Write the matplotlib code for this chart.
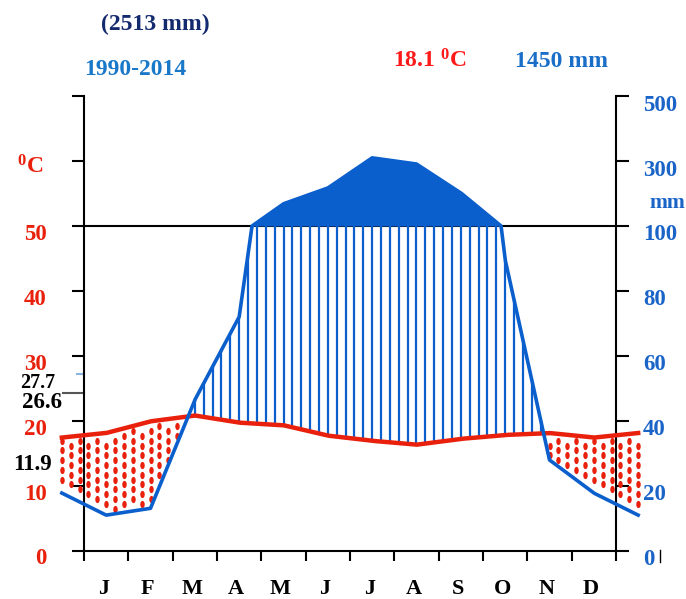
import matplotlib
matplotlib.use("Agg")
import matplotlib.pyplot as plt
import numpy as np
from matplotlib.lines import Line2D

# monthly means
months = ["J", "F", "M", "A", "M", "J", "J", "A", "S", "O", "N", "D"]
temp = [18.1, 19.9, 20.8, 19.7, 19.3, 17.7, 16.9, 16.3, 17.2, 17.8, 18.1, 17.4]
prec = [10.9, 13.0, 46.4, 72.0, 168.5, 217.0, 310.0, 291.0, 202.0, 89.6, 27.9, 17.7]
temp_ticks = [0, 10, 20, 30, 40, 50]
prec_ticks = [0, 20, 40, 60, 80, 100, 300, 500]
extra_labels = ["27.7", "26.6", "11.9"]

RED = "#e8200c"
BLUE = "#0a5fcc"

plt.rcParams["mathtext.fontset"] = "custom"
plt.rcParams["mathtext.rm"] = "Liberation Serif:bold"
plt.rcParams["mathtext.it"] = "Liberation Serif:bold"
plt.rcParams["mathtext.bf"] = "Liberation Serif:bold"
plt.rcParams["mathtext.default"] = "rm"
FONT = dict(family="Liberation Serif", weight="bold")


def scale_p(p):
    # Walter-Lieth: 20 mm = 10 degC below 100 mm, 200 mm = 10 degC above
    p = np.asarray(p, dtype=float)
    return np.where(p <= 100, p / 2.0, 50 + (p - 100) / 20.0)


# wrap december before january and january after december
xm = np.arange(-1, 13) + 0.5
t_ext = [temp[-1]] + temp + [temp[0]]
p_ext = [prec[-1]] + prec + [prec[0]]

xd = np.linspace(-0.5, 12.5, 2601)
td = np.interp(xd, xm, t_ext)
sd = scale_p(np.interp(xd, xm, p_ext))

fig = plt.figure(figsize=(6.86, 5.99), dpi=100)
ax = fig.add_axes([84 / 686, (599 - 550.5) / 599, 532 / 686, 454.3 / 599])
ax.set_xlim(0, 12)
ax.set_ylim(0, 70)

# humid period: vertical hatching, arid period: red dots
xh = -0.5 + 0.2 * np.arange(66)
th = np.interp(xh, xd, td)
sh = np.interp(xh, xd, sd)
ell = [(0.62 * np.cos(a), np.sin(a)) for a in np.linspace(0, 2 * np.pi, 25)]
dot_x, dot_y = [], []
for k, (x, t, s) in enumerate(zip(xh, th, sh)):
    if s > t:
        ax.vlines(x, t, min(s, 50), color=BLUE, lw=1.6, clip_on=False, zorder=2)
    else:
        rows = 0.42 + (0.75 if k % 2 else 0) + 1.5 * np.arange(-2, 40)
        for r in rows:
            if s + 0.6 < r < t - 0.45:
                dot_x.append(x)
                dot_y.append(r)
ax.plot(dot_x, dot_y, ls="none", marker=ell, ms=5.2, color=RED,
        mec="none", clip_on=False, zorder=2)

ax.fill_between(xd, 50, sd, where=sd > 50, color=BLUE, lw=0, zorder=3)
ax.axhline(50, color="black", lw=1.5, zorder=1)
ax.plot(xd, td, color=RED, lw=3.2, clip_on=False, zorder=4)
ax.plot(xd, sd, color=BLUE, lw=2.6, clip_on=False, zorder=5)

# axes
for side in ["left", "right", "bottom"]:
    ax.spines[side].set_linewidth(1.5)
ax.spines["top"].set_visible(False)
ax.set_xticks(range(13))
ax.set_yticks(range(0, 71, 10))
ax.tick_params(axis="x", direction="out", length=7.5, width=1.5,
               labelbottom=False)
ax.tick_params(axis="y", direction="out", length=9, width=1.5,
               left=True, right=True, labelleft=False, labelright=False)

for v in temp_ticks:
    ax.annotate(str(v), xy=(0, v), xytext=(-37, -14), textcoords="offset pixels",
                ha="right", va="baseline", color=RED, fontsize=16.5, **FONT)
for v, s in zip(prec_ticks, scale_p(prec_ticks)):
    ax.annotate(str(v), xy=(12, s), xytext=(27, -14.5), textcoords="offset pixels",
                ha="left", va="baseline", color="#1a64c8", fontsize=16.5, **FONT)
for i, m in enumerate(months):
    ax.annotate(m, xy=(i + 0.5, 0), xytext=(-3, -44), textcoords="offset pixels",
                ha="center", va="baseline", color="black", fontsize=16, **FONT)

# small marks for extreme temperatures
ax.plot([-0.16, 0], [27.2, 27.2], color="#8ab4dc", lw=1.5, clip_on=False)
ax.plot([-0.48, 0], [24.3, 24.3], color="#555555", lw=1.5, clip_on=False)


def ftext(px, py, s, **kw):
    fig.text(px / 686, 1 - py / 599, s, va="baseline", **FONT, **kw)


ftext(55, 388, extra_labels[0], ha="right", color="black", fontsize=14.5)
ftext(62, 408, extra_labels[1], ha="right", color="black", fontsize=16.5)
ftext(52, 470, extra_labels[2], ha="right", color="black", fontsize=16.5)

ftext(155, 30, "(2513 mm)", ha="center", color="#142a6e", fontsize=17)
ftext(135, 75, "1990-2014", ha="center", color="#1a78c8", fontsize=17)
ftext(393, 67, "18.1 $^{0}$C", ha="left", color="#ff1a1a", fontsize=17)
ftext(515, 67, "1450 mm", ha="left", color="#1a6ec8", fontsize=17)
ftext(17, 173, "$^{0}$C", ha="left", color=RED, fontsize=17)
ftext(649, 208, "mm", ha="left", color="#1a64c8", fontsize=15.5)

fig.add_artist(Line2D([660 / 686, 660 / 686], [1 - 550 / 599, 1 - 562 / 599],
                      color="black", lw=1))

fig.savefig("out.png", dpi=100)
